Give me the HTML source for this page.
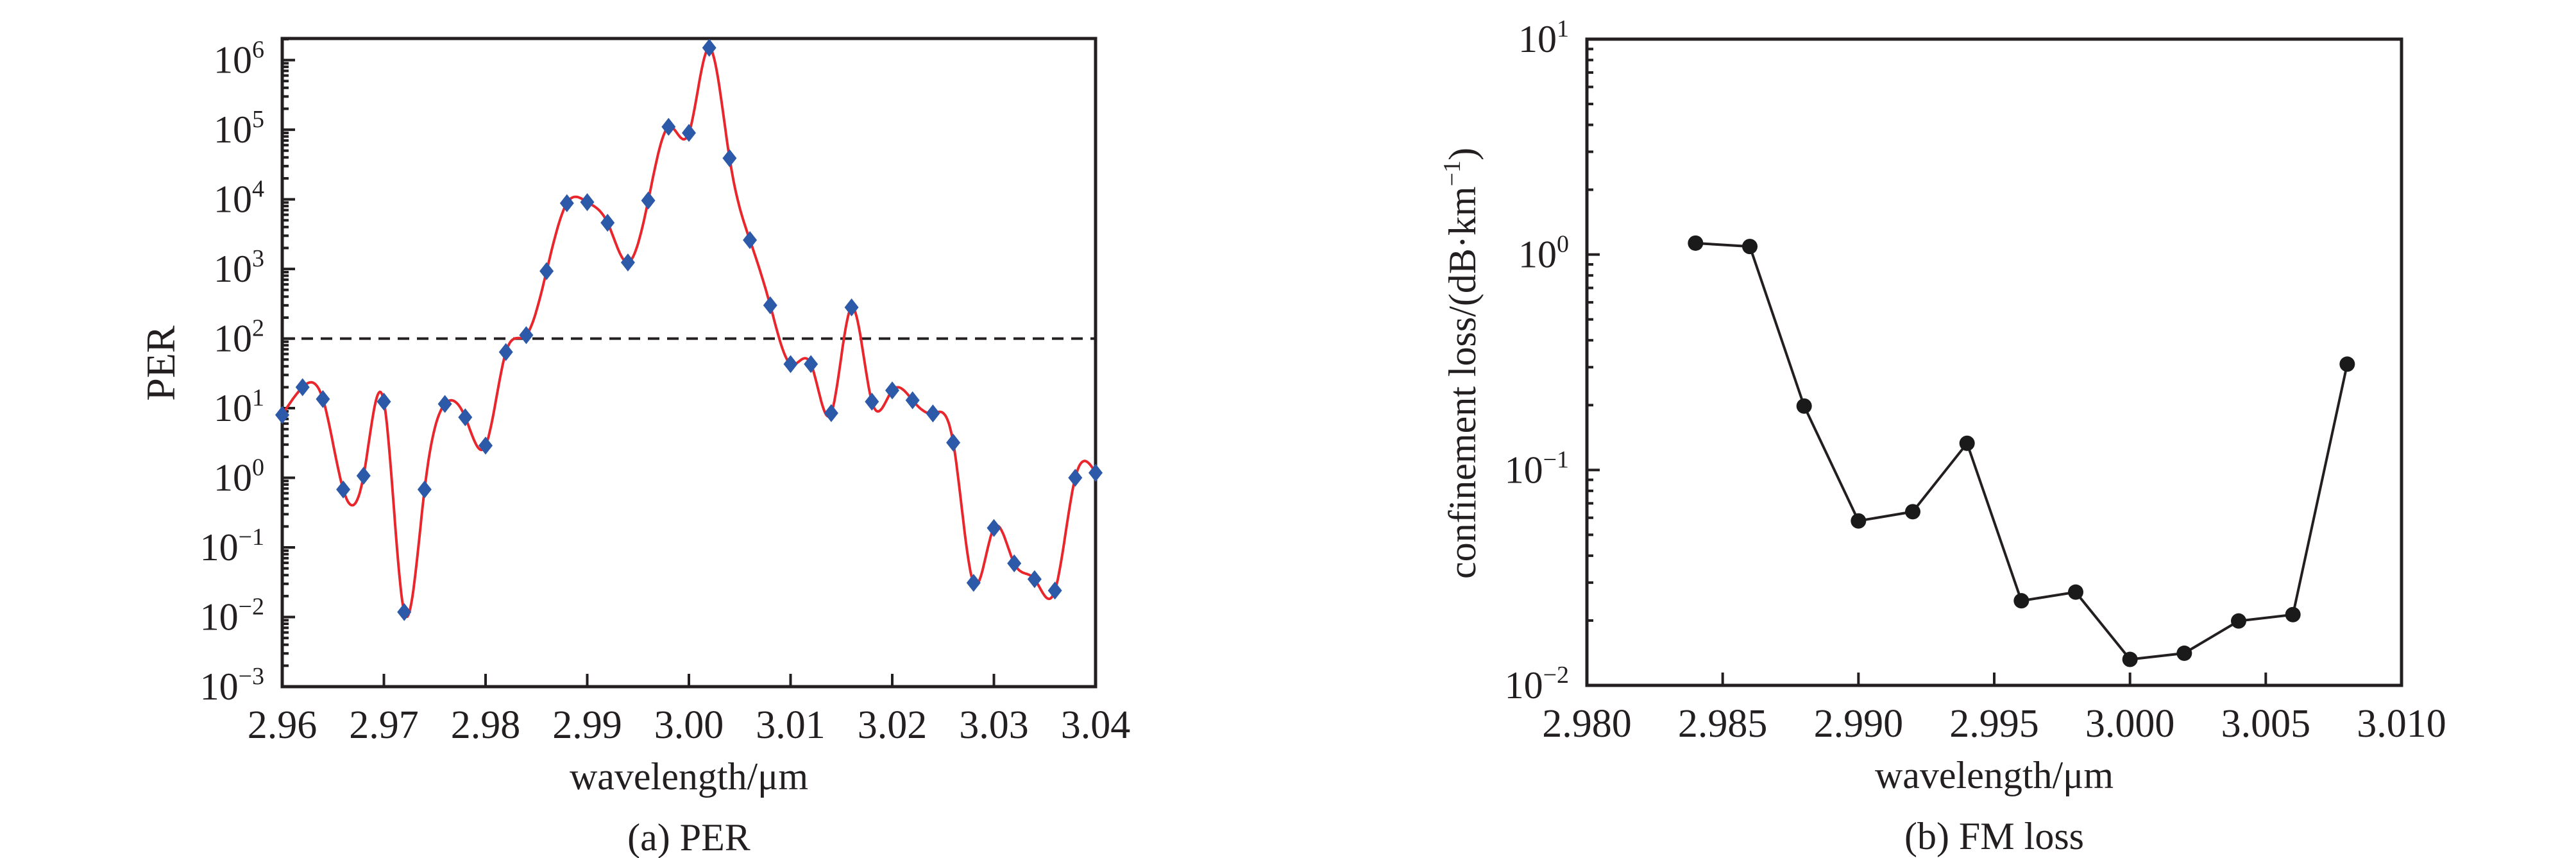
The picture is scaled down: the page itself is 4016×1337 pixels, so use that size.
<!DOCTYPE html>
<html><head><meta charset="utf-8"><style>
html,body{margin:0;padding:0;background:#fff;}
svg{display:block;font-family:"Liberation Serif",serif;}
</style></head><body>
<svg id="fig" width="4016" height="1337" viewBox="0 0 4016 1337" xmlns="http://www.w3.org/2000/svg">
<g id="pa"></g>
<g id="pb"></g>
</svg>
<script>
// ---- Chart (a) PER data ----
const perWavelengths = [2.960,2.962,2.964,2.966,2.968,2.970,2.972,2.974,2.976,2.978,2.980,2.982,2.984,2.986,2.988,2.990,2.992,2.994,2.996,2.998,3.000,3.002,3.004,3.006,3.008,3.010,3.012,3.014,3.016,3.018,3.020,3.022,3.024,3.026,3.028,3.030,3.032,3.034,3.036,3.038,3.040];
const perValues = [8,20,13.5,0.68,1.07,12.4,0.0118,0.68,11.5,7.4,2.9,64,112,930,8800,9100,4600,1240,9600,110000,90000,1.5e6,39000,2600,300,43,43,8.5,280,12.4,18,13,8.4,3.2,0.031,0.19,0.059,0.035,0.024,1.0,1.18];
const perThreshold = 100;
const perXTicks = [2.96,2.97,2.98,2.99,3.00,3.01,3.02,3.03,3.04];
const perXTickLabels = ["2.96","2.97","2.98","2.99","3.00","3.01","3.02","3.03","3.04"];
const perYExps = [-3,-2,-1,0,1,2,3,4,5,6];
// ---- Chart (b) FM loss data ----
const lossWavelengths = [2.984,2.986,2.988,2.990,2.992,2.994,2.996,2.998,3.000,3.002,3.004,3.006,3.008];
const lossValues = [1.13,1.09,0.198,0.058,0.064,0.133,0.0247,0.0271,0.0132,0.0141,0.0199,0.0213,0.31];
const lossXTicks = [2.980,2.985,2.990,2.995,3.000,3.005,3.010];
const lossXTickLabels = ["2.980","2.985","2.990","2.995","3.000","3.005","3.010"];
const lossYExps = [-2,-1,0,1];

const NS="http://www.w3.org/2000/svg";
function mk(parent,tag,attrs,text){const e=document.createElementNS(NS,tag);for(const k in attrs)e.setAttribute(k,attrs[k]);if(text!==undefined)e.textContent=text;parent.appendChild(e);return e;}

function axes(g,o){
  const sx=v=>o.L+(v-o.x0)/(o.x1-o.x0)*(o.R-o.L);
  const sy=v=>o.B-(Math.log10(v)-o.ly0)/(o.ly1-o.ly0)*(o.B-o.T);
  // y ticks
  for(let e=Math.floor(o.ly0);e<=Math.ceil(o.ly1);e++){
    for(let m=1;m<10;m++){
      const lv=e+Math.log10(m);
      if(lv<o.ly0-1e-9||lv>o.ly1+1e-9)continue;
      const y=sy(Math.pow(10,lv));
      const t=mk(g,'line',{x1:o.L,x2:o.L+(m===1?20:10),y1:y,y2:y,stroke:'#231f20','stroke-width':4});
      
      
    }
  }
  o.yExps.forEach(e=>{
    const y=sy(Math.pow(10,e));
    const t=mk(g,'text',{x:o.L-28,y:y+20,'text-anchor':'end','font-size':60,fill:'#231f20'});
    
    
    const a=mk(t,'tspan',{},'10');
    const s=mk(t,'tspan',{dy:-24,'font-size':38},e<0?'\u2212'+(-e):String(e));
  });
  o.xTicks.forEach((v,i)=>{
    const x=sx(v);
    const t=mk(g,'line',{x1:x,x2:x,y1:o.B,y2:o.B-20,stroke:'#231f20','stroke-width':4});
    
    
    const l=mk(g,'text',{x:x,y:o.B+80,'text-anchor':'middle','font-size':62,fill:'#231f20'},o.xLabels[i]);
    
    
  });
  const f=mk(g,'rect',{x:o.L,y:o.T,width:o.R-o.L,height:o.B-o.T,fill:'none',stroke:'#231f20','stroke-width':5});
  
  
  const xl=mk(g,'text',{x:(o.L+o.R)/2,y:o.B+160,'text-anchor':'middle','font-size':60,fill:'#231f20'},'wavelength/\u03bcm');
  
  
  const cap=mk(g,'text',{x:(o.L+o.R)/2,y:o.B+255,'text-anchor':'middle','font-size':60,fill:'#231f20'},o.caption);
  
  
  return {sx,sy};
}

// spline helper (natural cubic in log space)
function spline(xs,ys){
  const n=xs.length,h=[],a=[],l=[1],mu=[0],z=[0],c=new Array(n).fill(0),b=[],d=[];
  for(let i=0;i<n-1;i++)h.push(xs[i+1]-xs[i]);
  for(let i=1;i<n-1;i++)a[i]=3/h[i]*(ys[i+1]-ys[i])-3/h[i-1]*(ys[i]-ys[i-1]);
  for(let i=1;i<n-1;i++){l[i]=2*(xs[i+1]-xs[i-1])-h[i-1]*mu[i-1];mu[i]=h[i]/l[i];z[i]=(a[i]-h[i-1]*z[i-1])/l[i];}
  for(let j=n-2;j>=0;j--){c[j]=(j<n-1&&j>0?z[j]-mu[j]*c[j+1]:(j===0?0:0));if(j>0)c[j]=z[j]-mu[j]*c[j+1];b[j]=(ys[j+1]-ys[j])/h[j]-h[j]*(c[j+1]+2*c[j])/3;d[j]=(c[j+1]-c[j])/(3*h[j]);}
  return x=>{let i=Math.min(n-2,Math.max(0,xs.findIndex((v,k)=>k<n-1&&x>=v&&x<=xs[k+1])));if(i<0)i=0;const dx=x-xs[i];return ys[i]+b[i]*dx+c[i]*dx*dx+d[i]*dx*dx*dx;};
}

// ---- Chart (a) ----
const ga=document.getElementById('pa');
const A=axes(ga,{L:440,R:1708,T:60,B:1070,x0:2.96,x1:3.04,ly0:-3,ly1:6.31,yExps:perYExps,xTicks:perXTicks,xLabels:perXTickLabels,caption:'(a) PER'});
const pl=mk(ga,'text',{x:0,y:0,'text-anchor':'middle','font-size':64,fill:'#231f20',transform:'translate(272,566) rotate(-90)'},'PER');


const th=mk(ga,'line',{x1:440,x2:1708,y1:A.sy(perThreshold),y2:A.sy(perThreshold),stroke:'#231f20','stroke-width':4,'stroke-dasharray':'18,12'});


const xsN=perWavelengths.map(v=>(v-2.96)*1000);
const f=spline(xsN,perValues.map(v=>Math.log10(v)));
let dstr='';
for(let k=0;k<=800;k++){const xn=xsN[0]+(xsN[xsN.length-1]-xsN[0])*k/800;const w=2.96+xn/1000;const y=A.sy(Math.pow(10,f(xn)));dstr+=(k?'L':'M')+A.sx(w).toFixed(1)+','+y.toFixed(1);}
const curve=mk(ga,'path',{d:dstr,fill:'none',stroke:'#e8262b','stroke-width':4});


perWavelengths.forEach((w,i)=>{
  const x=A.sx(w),y=A.sy(perValues[i]);
  const p=mk(ga,'polygon',{points:`${x},${y-14} ${x+11},${y} ${x},${y+14} ${x-11},${y}`,fill:'#2c5aa8'});
  
  
});

// ---- Chart (b) ----
const gb=document.getElementById('pb');
const Bx=axes(gb,{L:2474,R:3744,T:61,B:1068,x0:2.98,x1:3.01,ly0:-2,ly1:1,yExps:lossYExps,xTicks:lossXTicks,xLabels:lossXTickLabels,caption:'(b) FM loss'});
const yl=mk(gb,'text',{x:0,y:0,'text-anchor':'middle','font-size':60,fill:'#231f20',transform:'translate(2300,566) rotate(-90)'});


mk(yl,'tspan',{},'confinement loss/(dB\u00b7km');
mk(yl,'tspan',{dy:-24,'font-size':38},'\u22121');
mk(yl,'tspan',{dy:24},')');
const pts=lossWavelengths.map((w,i)=>Bx.sx(w).toFixed(1)+','+Bx.sy(lossValues[i]).toFixed(1)).join(' ');
const ln=mk(gb,'polyline',{points:pts,fill:'none',stroke:'#231f20','stroke-width':4});


lossWavelengths.forEach((w,i)=>{
  const c=mk(gb,'circle',{cx:Bx.sx(w),cy:Bx.sy(lossValues[i]),r:12,fill:'#1a1a1a'});
  
  
});
</script>
</body></html>
